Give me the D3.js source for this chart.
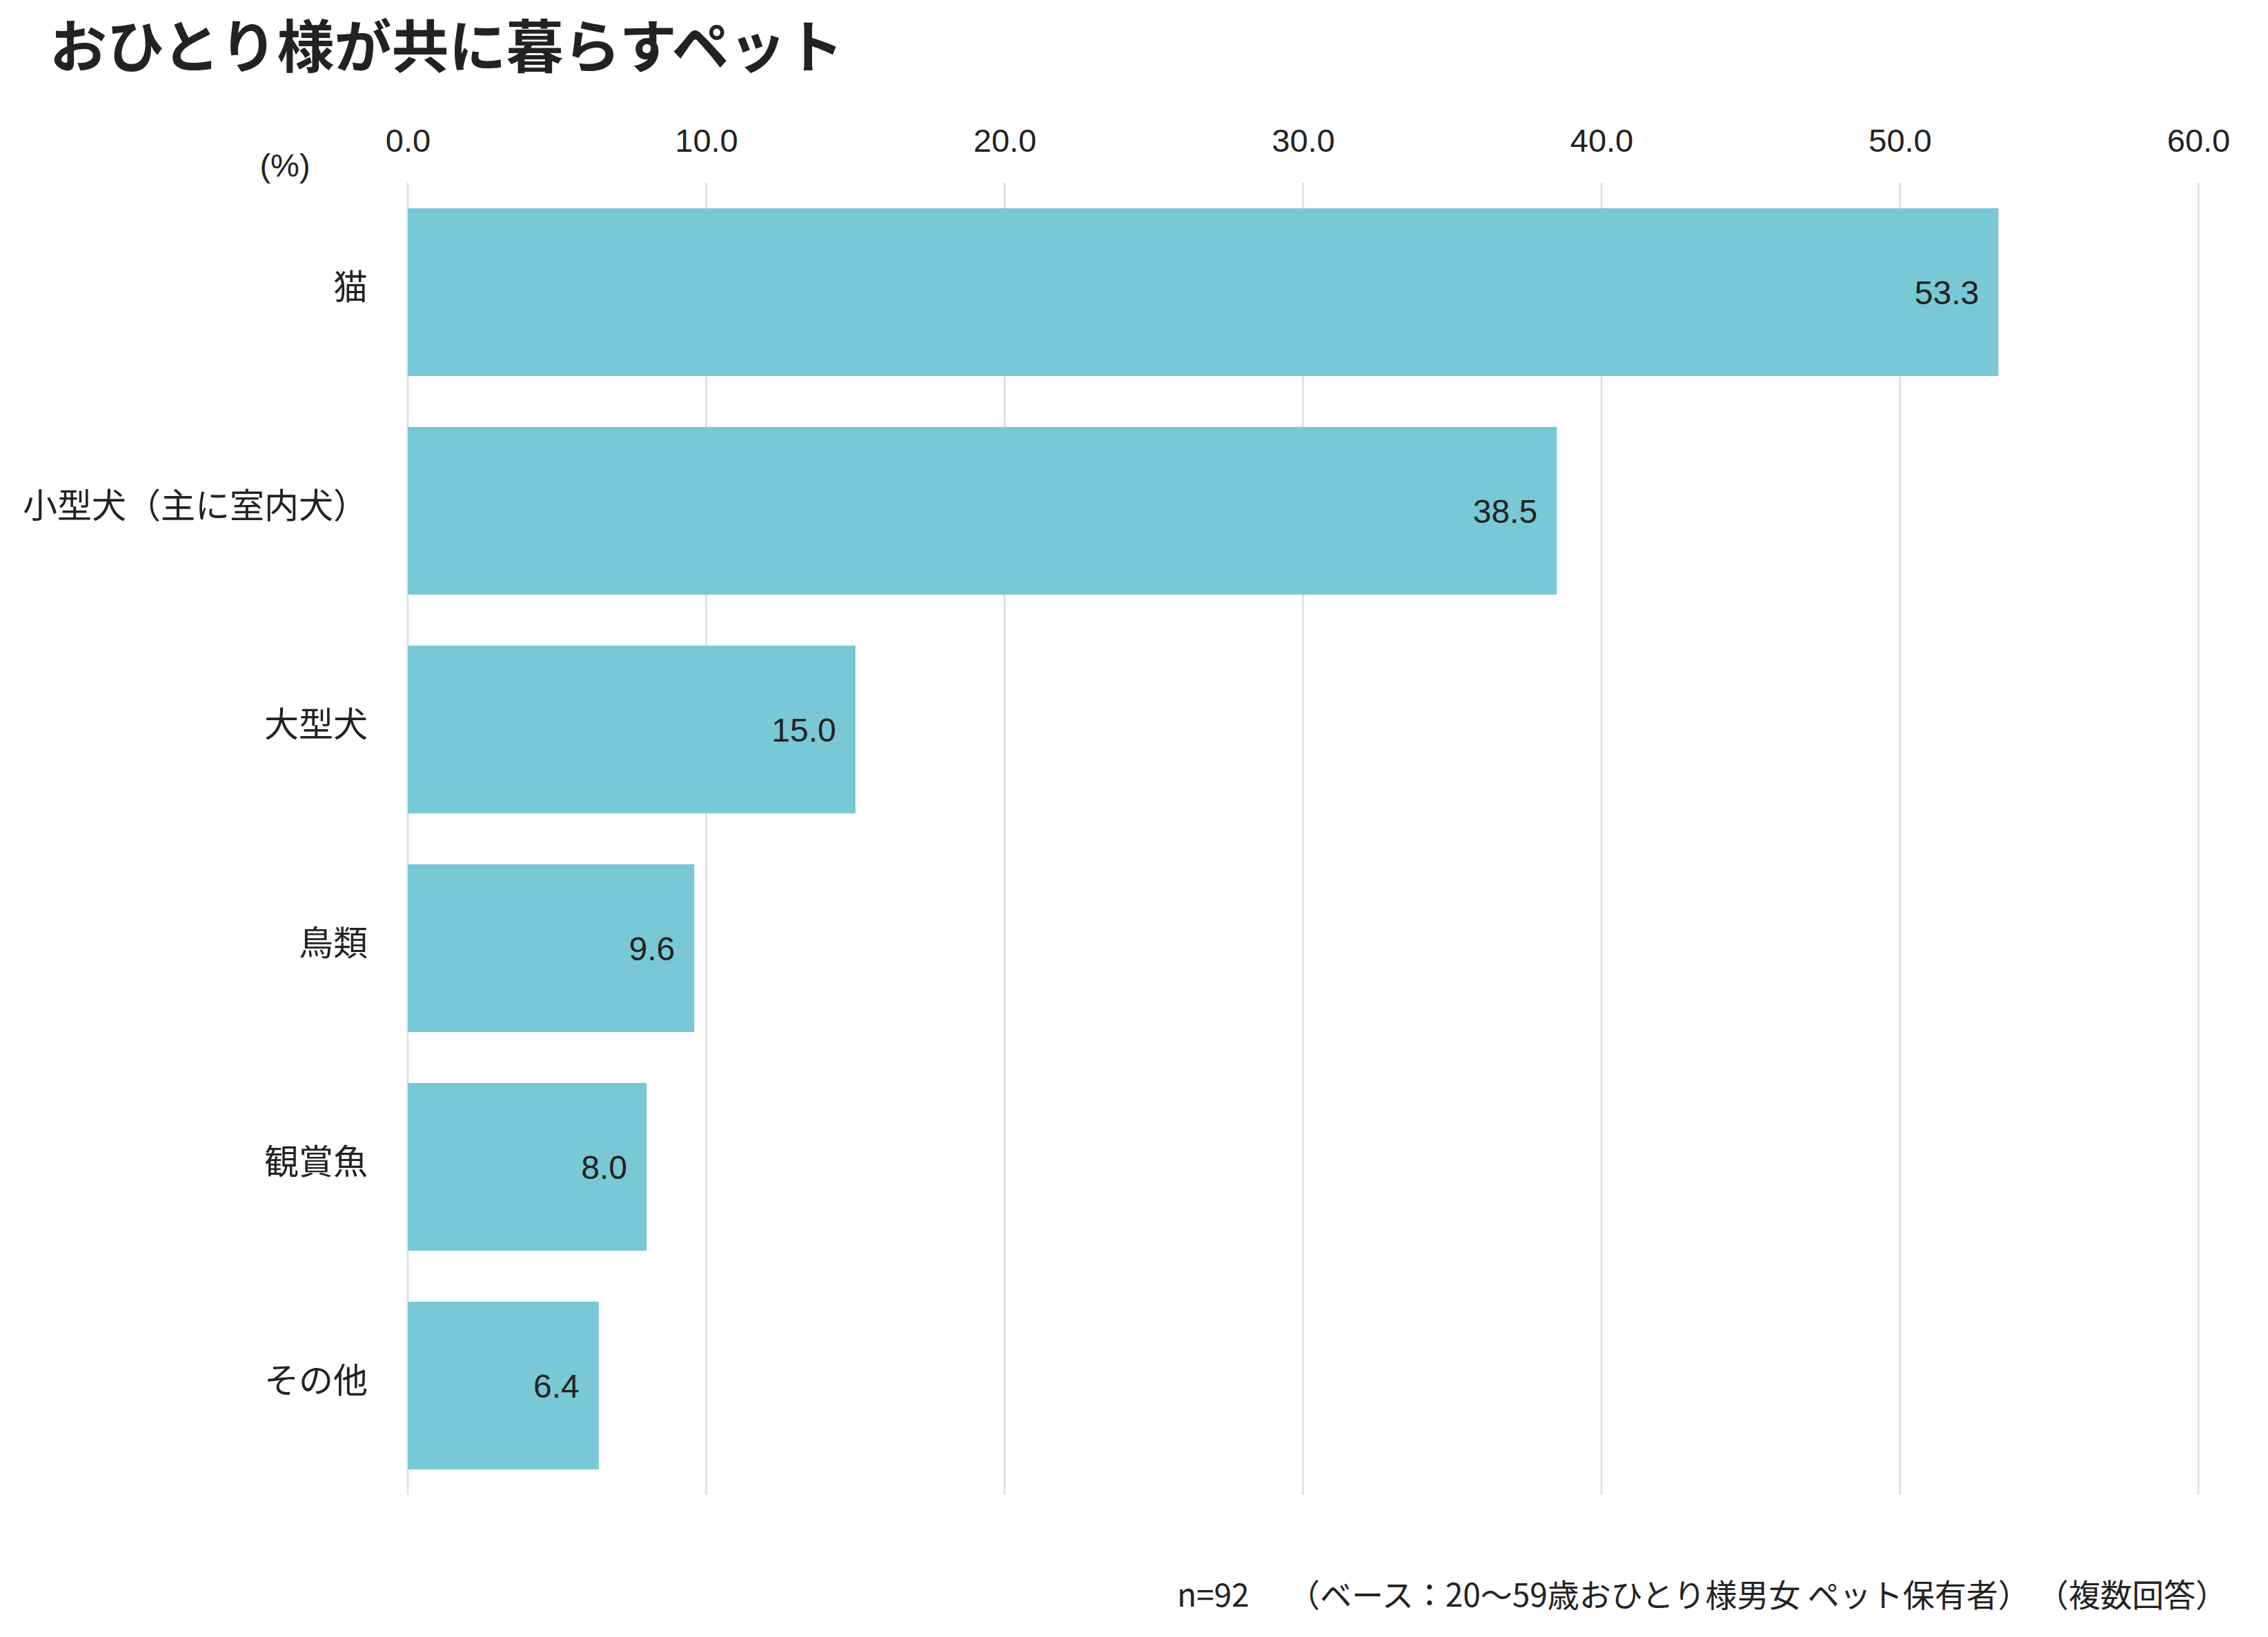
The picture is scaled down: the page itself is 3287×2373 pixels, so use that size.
<!DOCTYPE html>
<html>
<head>
<meta charset="utf-8">
<script src="https://cdn.jsdelivr.net/npm/d3@7"></script>
<style>
  body { margin: 0; background: #fff; }
  svg { display: block; }
</style>
</head>
<body>
<svg id="chart" width="3287" height="2373"></svg>
<script>
// data
var categories = ["猫", "小型犬（主に室内犬）", "大型犬", "鳥類", "観賞魚", "その他"];
var values = [53.3, 38.5, 15.0, 9.6, 8.0, 6.4];
var ticks = [0, 10, 20, 30, 40, 50, 60];

var title = "おひとり様が共に暮らすペット";
var note = "n=92　 （ベース：20～59歳おひとり様男女 ペット保有者） （複数回答）";

var W = 3287, H = 2373;
var margin = {left: 591, right: 101, top: 265, bottom: 206};

var svg = d3.select("#chart");

var x = d3.scaleLinear()
    .domain([0, 60])
    .range([margin.left, W - margin.right]);

var y = d3.scaleBand()
    .domain(categories)
    .range([margin.top, H - margin.bottom])
    .paddingInner(0.233)
    .paddingOuter(0.1165);

// grid lines
svg.append("g").attr("class", "grid")
  .selectAll("line")
  .data(ticks)
  .enter().append("line")
    .attr("x1", d => x(d)).attr("x2", d => x(d))
    .attr("y1", margin.top).attr("y2", H - margin.bottom)
    .attr("stroke", "#e2e2e2")
    .attr("stroke-width", 3);

// top axis
var xAxis = d3.axisTop(x)
    .tickValues(ticks)
    .tickFormat(d3.format(".1f"))
    .tickSize(0)
    .tickPadding(0);

var ax = svg.append("g")
    .attr("transform", "translate(0,220)")
    .call(xAxis);
ax.select(".domain").remove();
ax.selectAll("text")
    .attr("font-family", "'Liberation Sans', Arial, sans-serif")
    .attr("font-size", 47)
    .attr("fill", "#222");

svg.append("text")
    .attr("x", 413).attr("y", 256)
    .attr("text-anchor", "middle")
    .attr("font-family", "'Liberation Sans', Arial, sans-serif")
    .attr("font-size", 47)
    .attr("fill", "#222")
    .text("(%)");

// bars
svg.append("g").attr("class", "bars")
  .selectAll("rect")
  .data(values)
  .enter().append("rect")
    .attr("x", x(0))
    .attr("y", (d, i) => y(categories[i]))
    .attr("width", d => x(d) - x(0))
    .attr("height", y.bandwidth())
    .attr("fill", "#78c8d6");

// value labels
svg.append("g").attr("class", "labels")
  .selectAll("text")
  .data(values)
  .enter().append("text")
    .attr("x", d => x(d) - 28)
    .attr("y", (d, i) => y(categories[i]) + y.bandwidth() / 2)
    .attr("dy", "0.36em")
    .attr("text-anchor", "end")
    .attr("font-family", "'Liberation Sans', Arial, sans-serif")
    .attr("font-size", 48)
    .attr("fill", "#222")
    .text(d => d.toFixed(1));

// category labels
var yAxis = d3.axisLeft(y).tickSize(0).tickPadding(0);
var ay = svg.append("g")
    .attr("transform", "translate(533,-6)")
    .call(yAxis);
ay.select(".domain").remove();
ay.selectAll("text")
    .attr("font-family", "'Noto Sans CJK JP', sans-serif")
    .attr("font-size", 50)
    .attr("fill", "#222");

// title
svg.append("text")
    .attr("x", 72).attr("y", 98)
    .attr("font-family", "'Noto Sans CJK JP', sans-serif")
    .attr("font-weight", "bold")
    .attr("font-size", 83)
    .attr("fill", "#222")
    .text(title);

// footnote
svg.append("text")
    .attr("x", 3228).attr("y", 2329)
    .attr("text-anchor", "end")
    .attr("font-family", "'Noto Sans CJK JP', sans-serif")
    .attr("font-size", 46)
    .attr("fill", "#222")
    .text(note);
</script>
</body>
</html>
